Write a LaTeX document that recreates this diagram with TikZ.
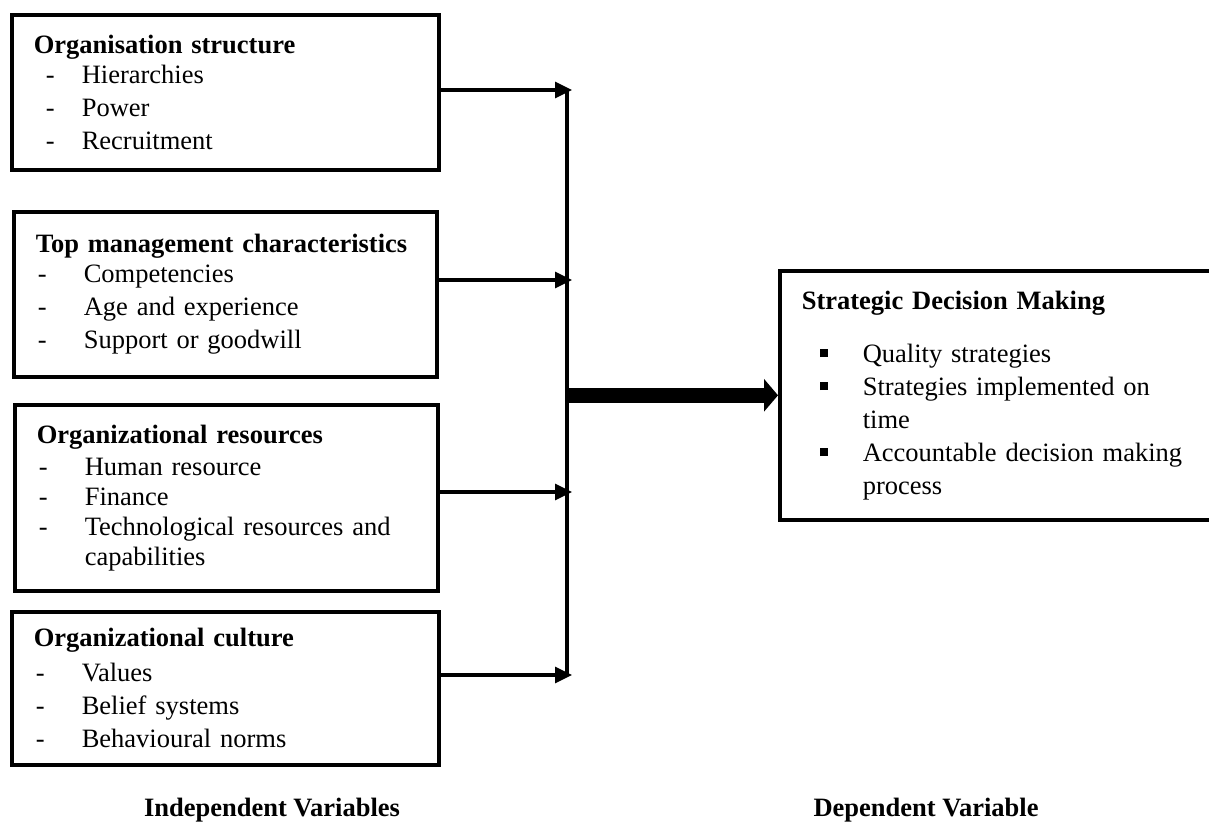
\documentclass[tikz,border=0pt]{standalone}
\usepackage{fontspec}
\setmainfont{Liberation Serif}
\usetikzlibrary{arrows.meta, positioning}

\newcommand{\dashitem}[2][1pt]{\makebox[24pt][l]{\hspace*{#1}-}#2}
\newcommand{\sqitem}[1]{\makebox[30.5pt][l]{\hspace*{9pt}\rule[2.5pt]{4pt}{4pt}}#1}

\begin{document}
\begin{tikzpicture}[x=0.5pt, y=-0.5pt,
  font=\fontsize{13.25}{16.5}\selectfont,
  varbox/.style={draw, line width=1.8pt, anchor=north west, align=left, inner xsep=11pt, inner ysep=0pt},
  link/.style={line width=1.6pt, -{Triangle[length=8.5pt, width=8pt]}},
  bigarrow/.style={line width=7.5pt, -{Triangle[length=7pt, width=16pt]}},
  caption/.style={font=\fontsize{13.25}{16}\selectfont\bfseries, anchor=base},
]
  \useasboundingbox (0,0) rectangle (1209,825);

  % independent variables
  \node[varbox, text width=191.5pt, minimum height=77.5pt] (orgstruct) at (10,13)
    {\textbf{Organisation structure}\\[-1.5pt]
     \dashitem[6pt]{Hierarchies}\\
     \dashitem[6pt]{Power}\\
     \dashitem[6pt]{Recruitment}};
  \node[varbox, text width=189.5pt, minimum height=82.5pt] (topmgmt) at (12,210)
    {\textbf{Top management characteristics}\\[-1.5pt]
     \dashitem{Competencies}\\
     \dashitem{Age and experience}\\
     \dashitem{Support or goodwill}};
  \node[varbox, text width=189.5pt, minimum height=93pt] (orgres) at (13,403)
    {\textbf{Organizational resources}\\[-0.5pt]
     \dashitem{Human resource}\\[-1.5pt]
     \dashitem{Finance}\\[-1.5pt]
     \dashitem{Technological resources and}\\[-1.5pt]
     \hspace*{24pt}capabilities};
  \node[varbox, text width=191.5pt, minimum height=76.5pt] (orgcult) at (10,610)
    {\textbf{Organizational culture}\\[1pt]
     \dashitem{Values}\\
     \dashitem{Belief systems}\\
     \dashitem{Behavioural norms}};

  % dependent variable
  \node[varbox, text width=209pt, minimum height=124.5pt] (depvar) at (778,269)
    {\textbf{Strategic Decision Making}\\[10pt]
     \sqitem{Quality strategies}\\
     \sqitem{Strategies implemented on}\\
     \hspace*{30.5pt}time\\
     \sqitem{Accountable decision making}\\
     \hspace*{30.5pt}process};

  % connectors
  \coordinate (bustop) at (567,90);
  \coordinate (busbot) at (567,675);
  \coordinate (in1) at (572,90);
  \coordinate (in2) at (572,280);
  \coordinate (in3) at (572,492);
  \coordinate (in4) at (572,675);
  \draw[line width=1.6pt] (bustop) -- (busbot);
  \draw[link] (orgstruct.east |- in1) -- (in1);
  \draw[link] (topmgmt.east |- in2) -- (in2);
  \draw[link] (orgres.east |- in3) -- (in3);
  \draw[link] (orgcult.east |- in4) -- (in4);
  \draw[bigarrow] (bustop |- depvar.west) -- (depvar.west);

  \node[caption] (indep) at (272,816) {Independent Variables};
  \node[caption] (dep) at (926,816) {Dependent Variable};
\end{tikzpicture}
\end{document}
